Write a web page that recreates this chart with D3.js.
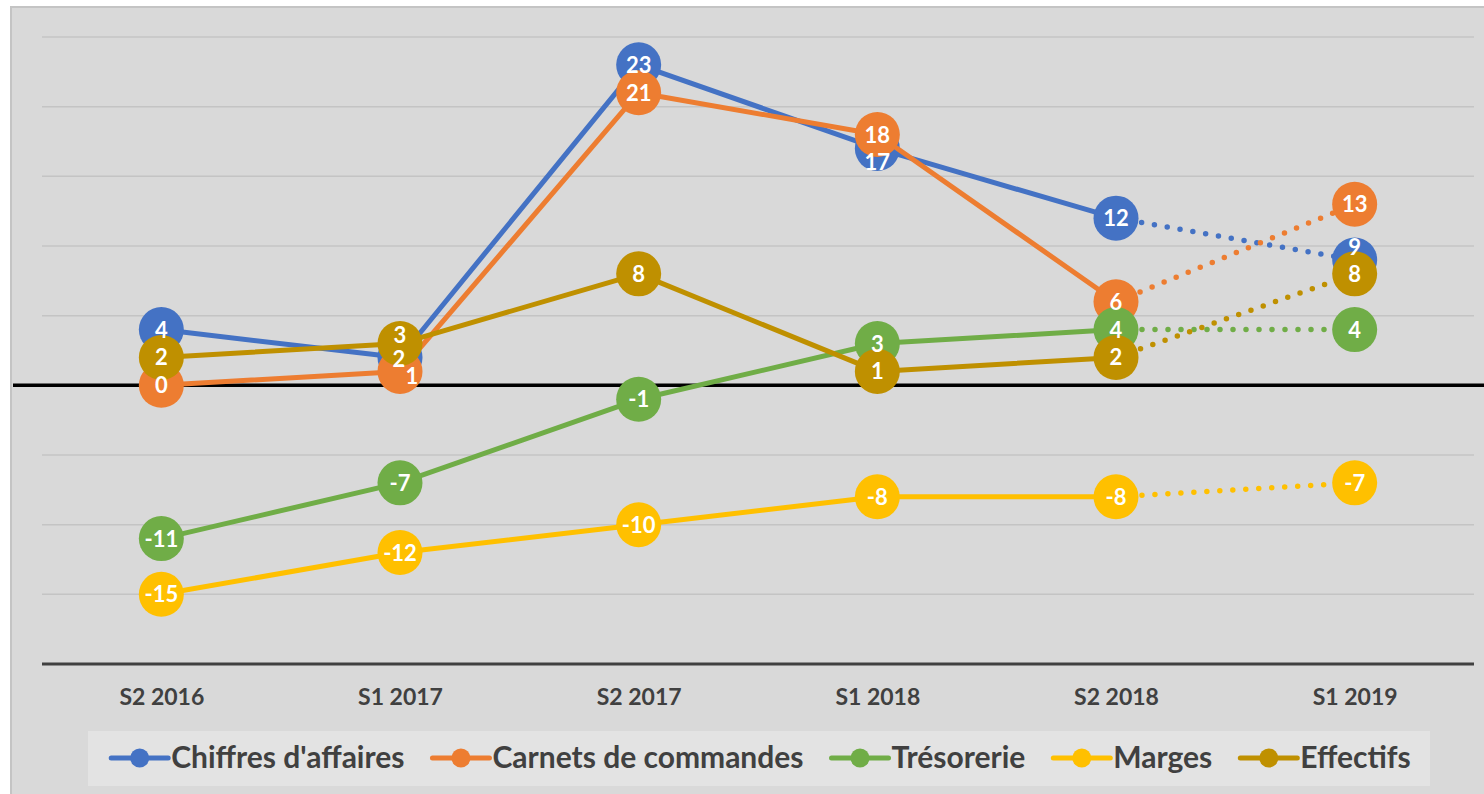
<!DOCTYPE html>
<html><head><meta charset="utf-8">
<script src="https://cdn.jsdelivr.net/npm/d3@7"></script>
<style>html,body{margin:0;padding:0;background:#fff;}svg{display:block;}</style>
</head><body>
<svg id="chart" width="1484" height="794"></svg>
<script>
const categories = ["S2 2016","S1 2017","S2 2017","S1 2018","S2 2018","S1 2019"];
const seriesNames = ["Chiffres d'affaires","Carnets de commandes","Trésorerie","Marges","Effectifs"];
const chiffres = [4, 2, 23, 17, 12, 9];
const carnets = [0, 1, 21, 18, 6, 13];
const tresorerie = [-11, -7, -1, 3, 4, 4];
const marges = [-15, -12, -10, -8, -8, -7];
const effectifs = [2, 3, 8, 1, 2, 8];
const yTicks = [-20,-15,-10,-5,0,5,10,15,20,25];
const colors = ["#4472c4","#ed7d31","#70ad47","#ffc000","#bf9000"];

const series = [chiffres, carnets, tresorerie, marges, effectifs].map((v,i)=>({name:seriesNames[i], values:v, color:colors[i]}));
// label nudges (to reproduce the overlapping label placement)
const nudges = {0:{1:[-1,2],3:[0,14],5:[0,-13]},1:{1:[12,5]},4:{1:[0,-9]}};

const svg = d3.select("#chart");
const font = "Lato, 'Open Sans', sans-serif";

svg.append("rect").attr("x",11).attr("y",7).attr("width",1490).attr("height",800)
  .attr("fill","#d9d9d9").attr("stroke","#c4c4c4").attr("stroke-width",2);

const x = d3.scalePoint().domain(categories).range([42,1474]).padding(0.5);
const y = d3.scaleLinear().domain([-20,25]).range([664,37]);

// gridlines
svg.append("g").selectAll("line").data(yTicks.filter(t=>t!==0 && t!==-20)).join("line")
  .attr("x1",42).attr("x2",1474).attr("y1",d=>y(d)).attr("y2",d=>y(d))
  .attr("stroke","#c4c4c4").attr("stroke-width",1.5);

// bottom axis
const xAxis = d3.axisBottom(x).tickSize(0).tickPadding(25);
const ax = svg.append("g").attr("transform",`translate(0,${y(-20)})`).call(xAxis);
ax.select(".domain").remove();
ax.selectAll("text").attr("font-family",font).attr("font-weight","bold").attr("font-size",23).attr("fill","#404040");
svg.append("line").attr("x1",42).attr("x2",1474).attr("y1",y(-20)).attr("y2",y(-20))
  .attr("stroke","#404040").attr("stroke-width",3);

// zero line
svg.append("line").attr("x1",13).attr("x2",1484).attr("y1",y(0)).attr("y2",y(0))
  .attr("stroke","#000").attr("stroke-width",3.5);

const line = d3.line().x(d=>x(d.c)).y(d=>y(d.v));
const gS = svg.append("g");
series.forEach((s,si)=>{
  const pts = s.values.map((v,i)=>({c:categories[i],v,i}));
  const g = gS.append("g");
  g.append("path").attr("d",line(pts.slice(0,5))).attr("fill","none")
    .attr("stroke",s.color).attr("stroke-width",5).attr("stroke-linejoin","round");
  g.append("path").attr("d",line(pts.slice(4))).attr("fill","none")
    .attr("stroke",s.color).attr("stroke-width",5.5).attr("stroke-linecap","round")
    .attr("stroke-dasharray","0 13");
  g.selectAll("circle").data(pts).join("circle")
    .attr("cx",d=>x(d.c)).attr("cy",d=>y(d.v)).attr("r",22.5).attr("fill",s.color);
});
const gL = svg.append("g");
series.forEach((s,si)=>{
  const pts = s.values.map((v,i)=>({c:categories[i],v,i}));
  gL.append("g").selectAll("text").data(pts).join("text")
    .attr("x",d=>x(d.c)+((nudges[si]&&nudges[si][d.i])?nudges[si][d.i][0]:0))
    .attr("y",d=>y(d.v)+8+((nudges[si]&&nudges[si][d.i])?nudges[si][d.i][1]:0))
    .attr("text-anchor","middle").attr("font-family",font).attr("font-weight","bold")
    .attr("font-size",22).attr("fill","#fff").text(d=>String(d.v));
});

// legend
const lg = svg.append("g");
lg.append("rect").attr("x",88).attr("y",731).attr("width",1342).attr("height",55).attr("fill","#e3e3e3");
const items = lg.selectAll("g.item").data(series).join("g").attr("class","item");
items.append("line").attr("x1",0).attr("x2",57).attr("y1",0).attr("y2",0).attr("stroke",d=>d.color).attr("stroke-width",5).attr("stroke-linecap","round");
items.append("circle").attr("cx",28.5).attr("cy",0).attr("r",9.5).attr("fill",d=>d.color);
items.append("text").attr("x",60).attr("y",10).attr("font-family",font).attr("font-weight","bold")
  .attr("font-size",30).attr("fill","#404040").text(d=>d.name);
const widths = [];
items.each(function(){ widths.push(this.getBBox().width); });
const gap = 28;
const total = d3.sum(widths) + gap*(widths.length-1);
let cx = 761 - total/2;
items.attr("transform",(d,i)=>{ const t=`translate(${cx},758)`; cx += widths[i]+gap; return t; });
</script>
</body></html>
